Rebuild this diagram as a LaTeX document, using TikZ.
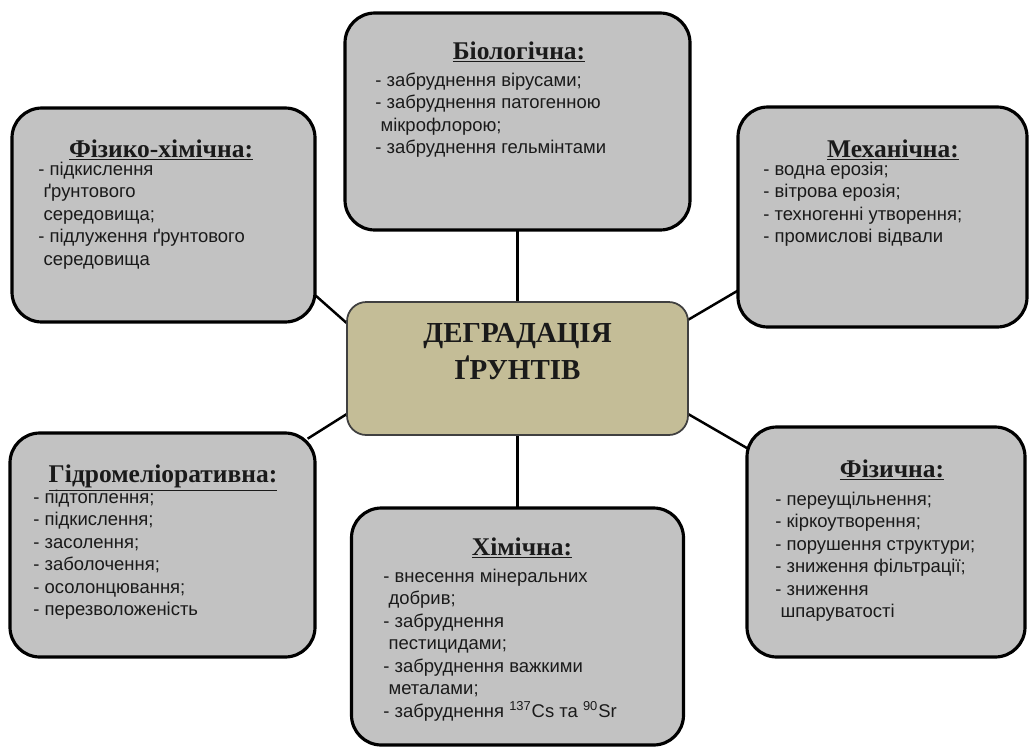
\documentclass[tikz,border=0pt]{standalone}
\usepackage{fontspec}
\setmainfont{Liberation Serif}
\setsansfont{Liberation Sans}
\usepackage{tikz}
\usetikzlibrary{backgrounds}
\definecolor{boxgray}{HTML}{C2C2C2}
\definecolor{coretan}{HTML}{C4BD97}
\definecolor{inkdark}{HTML}{1A1A1A}
\newcommand{\wrapind}{\hspace*{3pt}}
\newcommand{\firstline}{\rule{0pt}{8.5pt}}
\tikzset{
  kindbox/.style={draw=black, fill=boxgray, rounded corners=17pt, line width=1.8pt,
    inner sep=0pt},
  hub/.style={draw=black!75, fill=coretan, rounded corners=11pt, line width=1pt,
    inner sep=0pt},
  kindhead/.style={anchor=base, inner sep=0pt, text=inkdark,
    font=\bfseries\fontsize{14.5}{17}\selectfont},
  kindlist/.style={anchor=north west, inner sep=0pt, align=left, text=inkdark,
    font=\sffamily\fontsize{10.5}{12.8}\selectfont},
  hubtitle/.style={align=center, inner sep=0pt, text=inkdark,
    font=\bfseries\fontsize{16.5}{21}\selectfont},
  link/.style={line width=1.4pt, color=black, shorten <=-6pt, shorten >=-6pt},
}

\begin{document}
\begin{tikzpicture}[x=1cm,y=1cm]
  \useasboundingbox (0,0) rectangle (20.6,-14.94);
  % the centre
  \node[hub, minimum width=6.82cm, minimum height=2.66cm] (core) at (10.35,-7.37) {};
  \node[hubtitle] (coretxt) at (10.35,-7.04) {ДЕГРАДАЦІЯ\\ҐРУНТІВ};
  % six kinds of degradation
  \foreach \n/\x/\y/\w/\h in {biol/10.35/-2.43/6.9/4.34, fiz/3.27/-4.30/6.06/4.28,
      mech/17.65/-4.34/5.78/4.40, hydro/3.25/-10.90/6.10/4.48,
      chem/10.35/-12.53/6.64/4.74, phys/17.72/-10.84/5.56/4.60}
    \node[kindbox, minimum width=\w cm, minimum height=\h cm] (\n) at (\x,\y) {};
  % headings, one per box
  \foreach \n/\x/\y/\t in {biol/10.38/-1.18/Біологічна:, fiz/3.22/-3.14/Фізико-хімічна:,
      mech/17.86/-3.14/Механічна:, hydro/3.26/-9.64/Гідромеліоративна:,
      chem/10.44/-11.10/Хімічна:, phys/17.84/-9.54/Фізична:}
    \node[kindhead] (\n-head) at (\x,\y) {\underline{\t}};
  % lists
  \node[kindlist] (biol-list) at (7.50,-1.42)
    {\firstline- забруднення вірусами;\\- забруднення патогенною\\\wrapind мікрофлорою;\\- забруднення гельмінтами};
  \node[kindlist] (fiz-list) at (0.76,-3.20)
    {\firstline- підкислення\\\wrapind ґрунтового\\\wrapind середовища;\\- підлуження ґрунтового\\\wrapind середовища};
  \node[kindlist] (mech-list) at (15.26,-3.20)
    {\firstline- водна ерозія;\\- вітрова ерозія;\\- техногенні утворення;\\- промислові відвали};
  \node[kindlist] (hydro-list) at (0.66,-9.76)
    {\firstline- підтоплення;\\- підкислення;\\- засолення;\\- заболочення;\\- осолонцювання;\\- перезволоженість};
  \node[kindlist] (chem-list) at (7.66,-11.34)
    {\firstline- внесення мінеральних\\\wrapind добрив;\\- забруднення\\\wrapind пестицидами;\\- забруднення важкими\\\wrapind металами;\\- забруднення \textsuperscript{137}Cs та \textsuperscript{90}Sr};
  \node[kindlist] (phys-list) at (15.50,-9.80)
    {\firstline- переущільнення;\\- кіркоутворення;\\- порушення структури;\\- зниження фільтрації;\\- зниження\\\wrapind шпаруватості};
  % links, kept behind the boxes
  \begin{scope}[on background layer]
    \fill[white] (0,0) rectangle (20.6,-14.94);
    \draw[link] (biol.south) -- (core.north);
    \draw[link] (core.south) -- (chem.north);
    \draw[link] (fiz.-28) -- (core.165);
    \draw[link] (mech.207) -- (core.16);
    \draw[link] (hydro.36) -- (core.195);
    \draw[link] (phys.146) -- (core.-15);
  \end{scope}
\end{tikzpicture}
\end{document}
